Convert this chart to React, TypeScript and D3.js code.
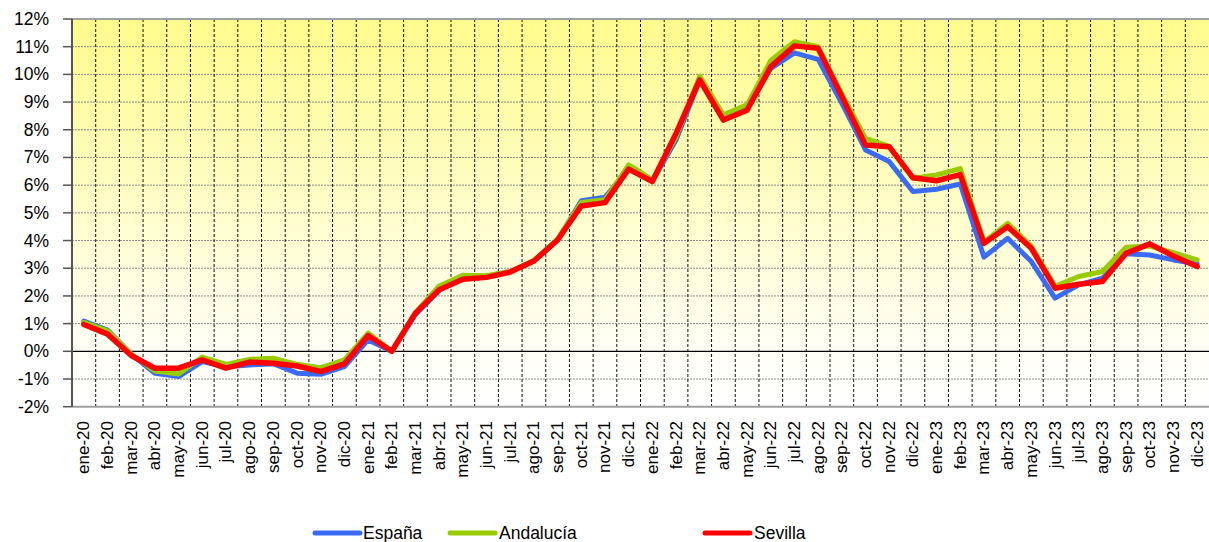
import React from "react";
import * as d3 from "d3";

const categories = [
  "ene-20","feb-20","mar-20","abr-20","may-20","jun-20","jul-20","ago-20","sep-20","oct-20","nov-20","dic-20",
  "ene-21","feb-21","mar-21","abr-21","may-21","jun-21","jul-21","ago-21","sep-21","oct-21","nov-21","dic-21",
  "ene-22","feb-22","mar-22","abr-22","may-22","jun-22","jul-22","ago-22","sep-22","oct-22","nov-22","dic-22",
  "ene-23","feb-23","mar-23","abr-23","may-23","jun-23","jul-23","ago-23","sep-23","oct-23","nov-23","dic-23",
];

const espana = [
  1.09, 0.77, -0.1, -0.79, -0.91, -0.37, -0.56, -0.49, -0.45, -0.79, -0.83, -0.55,
  0.41, 0.0, 1.33, 2.2, 2.65, 2.7, 2.88, 3.26, 4.02, 5.44, 5.56, 6.6,
  6.15, 7.63, 9.8, 8.35, 8.75, 10.22, 10.78, 10.54, 8.96, 7.27, 6.85, 5.77,
  5.85, 6.04, 3.4, 4.08, 3.24, 1.92, 2.4, 2.64, 3.52, 3.48, 3.3, 3.16,
];

const andalucia = [
  1.05, 0.74, -0.1, -0.71, -0.82, -0.21, -0.47, -0.29, -0.25, -0.47, -0.59, -0.31,
  0.66, 0.0, 1.4, 2.36, 2.75, 2.73, 2.88, 3.28, 4.05, 5.37, 5.47, 6.73,
  6.2, 7.75, 9.94, 8.54, 8.9, 10.5, 11.18, 11.0, 9.3, 7.69, 7.4, 6.25,
  6.37, 6.6, 3.95, 4.62, 3.8, 2.35, 2.7, 2.88, 3.76, 3.8, 3.56, 3.3,
];

const sevilla = [
  0.97, 0.62, -0.15, -0.61, -0.61, -0.31, -0.61, -0.39, -0.43, -0.53, -0.73, -0.45,
  0.57, 0.0, 1.38, 2.22, 2.6, 2.67, 2.86, 3.26, 4.02, 5.25, 5.37, 6.58,
  6.13, 7.87, 9.8, 8.35, 8.71, 10.28, 11.03, 10.94, 9.2, 7.45, 7.39, 6.27,
  6.16, 6.38, 3.9, 4.5, 3.72, 2.28, 2.42, 2.52, 3.54, 3.88, 3.44, 3.06,
];

const yTicks = [-2, -1, 0, 1, 2, 3, 4, 5, 6, 7, 8, 9, 10, 11, 12];

const seriesNames = ["España", "Andalucía", "Sevilla"];
const seriesColors = ["#3A6BF5", "#99CC00", "#FF0000"];
const seriesData = [espana, andalucia, sevilla];

const W = 1209;
const H = 542;
const left = 72;
const right = 1209;
const top = 19;
const bottom = 406.7;

export default function App() {
  const x = d3.scaleBand<string>().domain(categories).range([left, right]).padding(0);
  const xc = (c: string) => (x(c) as number) + x.bandwidth() / 2;
  const y = d3.scaleLinear().domain([-2, 12]).range([bottom, top]);

  const line = d3
    .line<number>()
    .x((_, i) => xc(categories[i]))
    .y((d) => y(d));

  const font = "'Liberation Sans', Arial, sans-serif";

  const legendItems = [
    { lx: 315, tx: 363 },
    { lx: 450, tx: 499 },
    { lx: 705, tx: 754 },
  ];

  return (
    <svg
      width={W}
      height={H}
      style={{ position: "absolute", left: 0, top: 0 }}
      fontFamily={font}
    >
      <defs>
        <linearGradient id="bg" x1="0" y1="0" x2="0" y2="1">
          <stop offset="0" stopColor="#FFFB8C" />
          <stop offset="0.85" stopColor="#FFFFF6" />
          <stop offset="1" stopColor="#FFFFFF" />
        </linearGradient>
      </defs>
      <rect x={left} y={top} width={right - left} height={bottom - top} fill="url(#bg)" />

      {yTicks.map((t) =>
        t === 0 || t === 12 || t === -2 ? null : (
          <line
            key={"h" + t}
            x1={left}
            x2={right}
            y1={y(t)}
            y2={y(t)}
            stroke="#8a8a8a"
            strokeWidth={1}
            strokeDasharray="2,1"
          />
        )
      )}
      {categories.slice(1).map((c) => (
        <line
          key={"v" + c}
          x1={x(c) as number}
          x2={x(c) as number}
          y1={top}
          y2={bottom}
          stroke="#111"
          strokeWidth={1}
          strokeDasharray="3,2"
        />
      ))}
      <line x1={left} x2={right} y1={y(0)} y2={y(0)} stroke="#000" strokeWidth={1.2} />

      <line x1={left} x2={right} y1={top} y2={top} stroke="#a0a0a0" strokeWidth={2} />
      <line x1={left} x2={right} y1={bottom} y2={bottom} stroke="#a0a0a0" strokeWidth={2} />
      <line x1={left} x2={left} y1={top} y2={bottom} stroke="#555" strokeWidth={2} />

      {yTicks.map((t) => (
        <g key={"yt" + t}>
          <line x1={63} x2={left} y1={y(t)} y2={y(t)} stroke="#555" strokeWidth={1.5} />
          <text
            x={49}
            y={y(t)}
            textAnchor="end"
            dominantBaseline="central"
            fontSize={17.5}
            fill="#000"
          >
            {t + "%"}
          </text>
        </g>
      ))}

      {categories.map((c) => (
        <text
          key={"xl" + c}
          transform={`translate(${xc(c)},421) rotate(-90)`}
          textAnchor="end"
          dominantBaseline="central"
          fontSize={17}
          fill="#000"
        >
          {c}
        </text>
      ))}

      {seriesData.map((s, i) => (
        <path
          key={"s" + i}
          d={line(s) as string}
          fill="none"
          stroke={seriesColors[i]}
          strokeWidth={i === 2 ? 5.5 : 5}
          strokeLinejoin="round"
          strokeLinecap="round"
        />
      ))}

      {seriesNames.map((n, i) => (
        <g key={"lg" + n}>
          <line
            x1={legendItems[i].lx}
            x2={legendItems[i].lx + 45}
            y1={533}
            y2={533}
            stroke={seriesColors[i]}
            strokeWidth={5}
            strokeLinecap="round"
          />
          <text
            x={legendItems[i].tx}
            y={533}
            dominantBaseline="central"
            fontSize={17.5}
            fill="#000"
          >
            {n}
          </text>
        </g>
      ))}
    </svg>
  );
}
